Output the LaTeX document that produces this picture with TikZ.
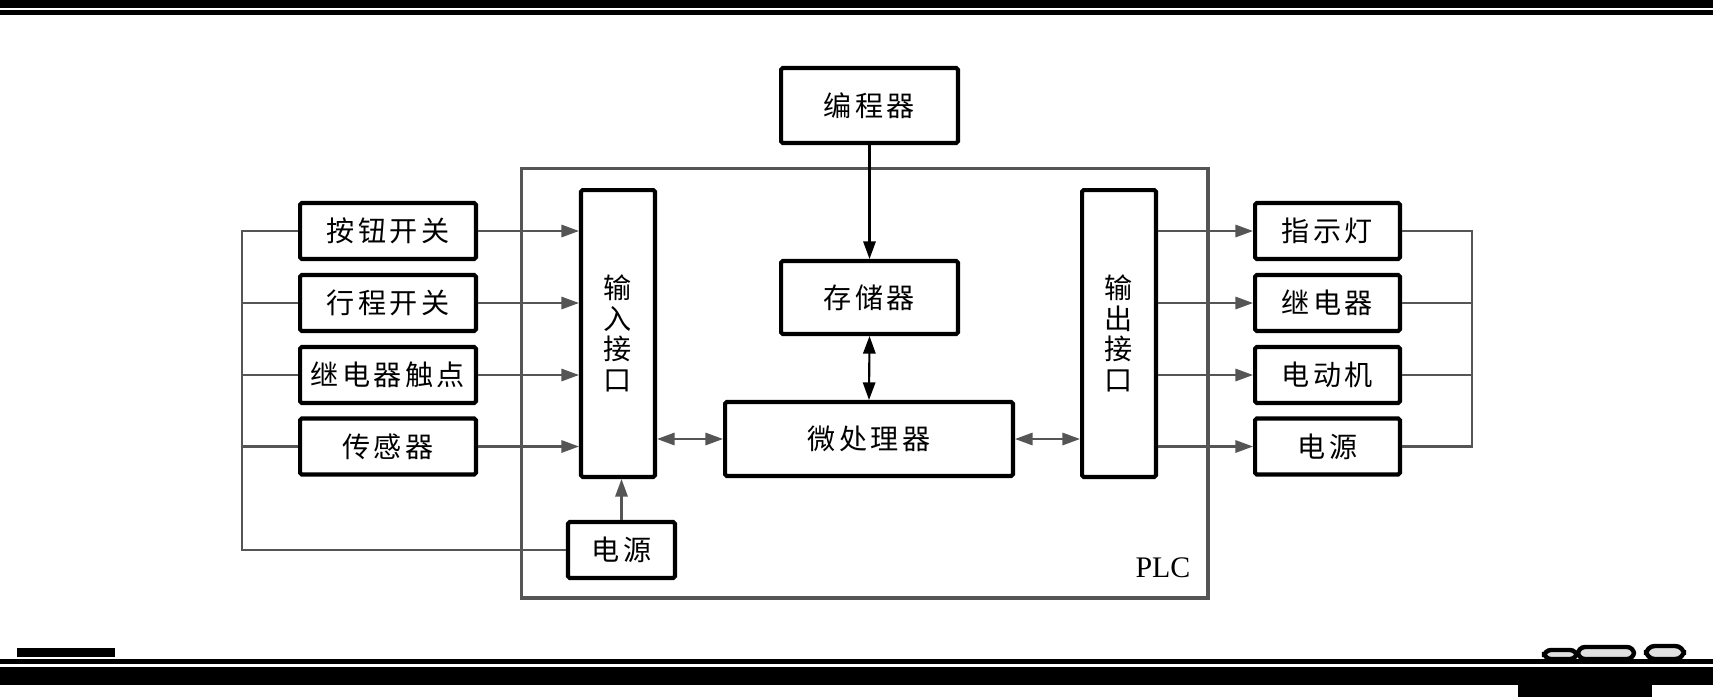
\documentclass[tikz,border=0pt]{standalone}
\usepackage{fontspec}
\setmainfont{Liberation Serif}
\newfontfamily\cjk{Noto Sans CJK SC}[LetterSpace=12]
\usetikzlibrary{arrows.meta,positioning,calc}
\definecolor{wiregray}{HTML}{555555}
\tikzset{
  plcbox/.style={draw=black, line width=2.3pt, rounded corners=1pt, fill=white,
                 inner sep=0pt, align=center, font=\cjk\fontsize{16pt}{17.5pt}\selectfont},
  inbox/.style={plcbox, minimum width=3.52cm, minimum height=1.12cm},
  outbox/.style={plcbox, minimum width=2.90cm, minimum height=1.12cm},
  ifbox/.style={plcbox, minimum width=1.48cm, minimum height=5.74cm},
  wire/.style={draw=wiregray, line width=1.2pt},
  sigarr/.style={wire, -{Triangle[length=10pt,width=7pt]}},
  duplex/.style={wire, {Triangle[length=10pt,width=7pt]}-{Triangle[length=10pt,width=7pt]}},
  blkarr/.style={draw=black, line width=1.2pt, -{Triangle[length=10pt,width=7pt]}},
  blkduplex/.style={draw=black, line width=1.2pt,
                    {Triangle[length=10pt,width=7pt]}-{Triangle[length=10pt,width=7pt]}},
  scanbar/.style={fill=black, draw=none},
}
\begin{document}
\begin{tikzpicture}[x=0.02cm,y=-0.02cm]
\fill[white] (0,0) rectangle (1713,697);
\useasboundingbox (0,0) rectangle (1713,697);
% scan edges
\fill[scanbar] (0,0) rectangle (1713,8);
\fill[scanbar] (0,10) rectangle (1713,15);
\fill[scanbar] (17,648) rectangle (115,657);
\fill[scanbar] (0,659) rectangle (1713,664);
\fill[scanbar] (0,667) rectangle (1713,685);
\fill[scanbar] (1518,685) rectangle (1652,697);
\draw[line width=2.5pt, fill=black!12, rounded corners=4pt] (1544,650) rectangle (1577,659);
\draw[line width=2.5pt, fill=black!12, rounded corners=4pt] (1578,647) rectangle (1634,659);
\draw[line width=2.5pt, fill=black!12, rounded corners=5pt] (1646,646) rectangle (1684,659);

% PLC frame
\draw[draw=wiregray, line width=1.8pt] (521.7,168.3) rectangle (1208,598);
\node[font=\fontsize{17pt}{19pt}\selectfont, inner sep=0pt] (plclabel) at (1163,568) {PLC};

% blocks
\node[plcbox, minimum width=3.54cm, minimum height=1.50cm] (prog) at (869.5,105.5) {编程器};
\node[plcbox, minimum width=3.54cm, minimum height=1.46cm] (mem) at (869.5,297.5) {存储器};
\node[plcbox, minimum width=5.76cm, minimum height=1.48cm] (cpu) at (869,439) {微处理器};
\node[ifbox] (inif) at (618,333.5) {输\\入\\接\\口};
\node[ifbox] (outif) at (1119,333.5) {输\\出\\接\\口};
\node[plcbox, minimum width=2.14cm, minimum height=1.12cm] (psu) at (621.5,550) {电源};

\node[inbox] (in1) at (388,231) {按钮开关};
\node[inbox] (in2) at (388,303) {行程开关};
\node[inbox] (in3) at (388,375) {继电器触点};
\node[inbox] (in4) at (388,446.5) {传感器};

\node[outbox] (out1) at (1327.5,231) {指示灯};
\node[outbox] (out2) at (1327.5,303) {继电器};
\node[outbox] (out3) at (1327.5,375) {电动机};
\node[outbox] (out4) at (1327.5,446.5) {电源};

\coordinate (busL) at (242,0);
\coordinate (busR) at (1472,0);

% common lines
\draw[wire] (in1.west) -| (busL |- psu.west) -- (psu.west);
\foreach \i in {2,3,4}
  \draw[wire] (in\i.west) -- (in\i.west -| busL);
\draw[wire] (out1.east) -| (busR |- out4.east) -- (out4.east);
\foreach \i in {2,3}
  \draw[wire] (out\i.east) -- (out\i.east -| busR);

% signals
\foreach \i in {1,...,4}{
  \draw[sigarr] (in\i.east) -- (in\i.east -| inif.west);
  \draw[sigarr] (out\i.west -| outif.east) -- (out\i.west);
}
\draw[sigarr] (psu.north) -- (psu.north |- inif.south);
\draw[duplex] (cpu.west -| inif.east) -- (cpu.west);
\draw[duplex] (cpu.east) -- (cpu.east -| outif.west);
\draw[blkarr] (prog.south) -- (mem.north);
\draw[blkduplex] (mem.south) -- (cpu.north);
\end{tikzpicture}
\end{document}
